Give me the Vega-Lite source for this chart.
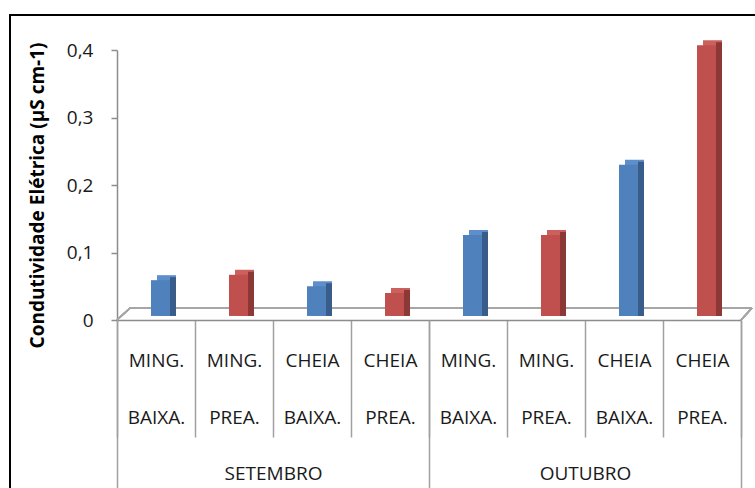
{
  "$schema": "https://vega.github.io/schema/vega-lite/v6.json",
  "autosize": {"type": "none"},
  "padding": {"left": 10, "top": 15, "right": 0, "bottom": 0},
  "width": 745,
  "height": 473,
  "background": "white",
  "view": {"stroke": "black", "strokeWidth": 2, "strokeDash": [745, 1218, 473], "fill": null},
  "config": {"font": "Open Sans"},
  "data": {
    "values": [
      {"id": "SETEMBRO|MING.|BAIXA.", "mes": "SETEMBRO", "lua": "MING.", "mare": "BAIXA.", "valor": 0.059},
      {"id": "SETEMBRO|MING.|PREA.", "mes": "SETEMBRO", "lua": "MING.", "mare": "PREA.", "valor": 0.067},
      {"id": "SETEMBRO|CHEIA|BAIXA.", "mes": "SETEMBRO", "lua": "CHEIA", "mare": "BAIXA.", "valor": 0.050},
      {"id": "SETEMBRO|CHEIA|PREA.", "mes": "SETEMBRO", "lua": "CHEIA", "mare": "PREA.", "valor": 0.040},
      {"id": "OUTUBRO|MING.|BAIXA.", "mes": "OUTUBRO", "lua": "MING.", "mare": "BAIXA.", "valor": 0.126},
      {"id": "OUTUBRO|MING.|PREA.", "mes": "OUTUBRO", "lua": "MING.", "mare": "PREA.", "valor": 0.126},
      {"id": "OUTUBRO|CHEIA|BAIXA.", "mes": "OUTUBRO", "lua": "CHEIA", "mare": "BAIXA.", "valor": 0.230},
      {"id": "OUTUBRO|CHEIA|PREA.", "mes": "OUTUBRO", "lua": "CHEIA", "mare": "PREA.", "valor": 0.407}
    ]
  },
  "resolve": {"scale": {"x": "independent"}, "axis": {"x": "independent"}},
  "layer": [
    {
      "layer": [
        {
          "mark": {"type": "rule", "color": "#a6a6a6", "strokeWidth": 1.5, "yOffset": -12, "y2Offset": -12, "xOffset": -26, "x2Offset": 50},
          "encoding": {
            "x": {"datum": "SETEMBRO|MING.|BAIXA.", "type": "nominal",
              "scale": {"domain": ["SETEMBRO|MING.|BAIXA.", "SETEMBRO|MING.|PREA.", "SETEMBRO|CHEIA|BAIXA.", "SETEMBRO|CHEIA|PREA.", "OUTUBRO|MING.|BAIXA.", "OUTUBRO|MING.|PREA.", "OUTUBRO|CHEIA|BAIXA.", "OUTUBRO|CHEIA|PREA."],
                "range": [107, 731], "paddingInner": 0, "paddingOuter": 0},
              "axis": {
                "orient": "bottom", "offset": -168, "title": null,
                "domain": true, "domainColor": "#8c8c8c", "domainWidth": 1.5,
                "ticks": true, "tickBand": "extent", "tickSize": 117, "tickColor": "#a0a0a0", "tickWidth": 1.5,
                "labelExpr": "slice(split(datum.label, '|'), 1)",
                "labelFont": "Open Sans", "labelFontSize": 19, "labelColor": "#1a1a1a",
                "labelAngle": 0, "labelBaseline": "top", "labelLineHeight": 57, "labelPadding": -86,
                "labelOverlap": false, "labelBound": false, "labelFlush": false
              }},
            "x2": {"datum": "OUTUBRO|CHEIA|PREA."},
            "y": {"datum": 0, "type": "quantitative",
              "scale": {"domain": [0, 0.4], "range": [305, 35], "nice": false, "zero": true},
              "axis": {
                "orient": "left", "offset": -107, "values": [0, 0.1, 0.2, 0.3, 0.4],
                "labelExpr": "replace(format(datum.value, '.1~f'), '.', ',')",
                "domainColor": "#8c8c8c", "domainWidth": 1.5, "tickColor": "#8c8c8c", "tickWidth": 1.5, "tickSize": 6,
                "grid": false, "labelFont": "Open Sans", "labelFontSize": 19, "labelColor": "#1a1a1a", "labelPadding": 18,
                "title": "Condutividade Elétrica (µS cm-1)", "titleFont": "Open Sans", "titleFontSize": 19, "titleFontWeight": "bold",
                "titleColor": "#000000", "titleX": -74, "titleY": 180, "titleBaseline": "alphabetic", "titleAngle": -90
              }},
            "y2": {"datum": 0}
          }
        },
        {
          "mark": {"type": "rule", "color": "#a6a6a6", "strokeWidth": 1.5, "xOffset": -39, "x2Offset": -26, "y2Offset": -12},
          "encoding": {
            "x": {"datum": "SETEMBRO|MING.|BAIXA.", "type": "nominal"},
            "x2": {"datum": "SETEMBRO|MING.|BAIXA."},
            "y": {"datum": 0, "type": "quantitative"},
            "y2": {"datum": 0}
          }
        },
        {
          "mark": {"type": "rule", "color": "#a6a6a6", "strokeWidth": 1.5, "xOffset": 39, "x2Offset": 50, "y2Offset": -12},
          "encoding": {
            "x": {"datum": "OUTUBRO|CHEIA|PREA.", "type": "nominal"},
            "x2": {"datum": "OUTUBRO|CHEIA|PREA."},
            "y": {"datum": 0, "type": "quantitative"},
            "y2": {"datum": 0}
          }
        },
        {
          "mark": {"type": "bar", "size": 19, "xOffset": 10.5, "yOffset": -5},
          "encoding": {
            "x": {"field": "id", "type": "nominal"},
            "y": {"field": "valor", "type": "quantitative"},
            "y2": {"datum": 0.006},
            "color": {"condition": {"test": "datum.mare === 'BAIXA.'", "value": "#5f8fca"}, "value": "#cc605c"}
          }
        },
        {
          "mark": {"type": "bar", "size": 6, "xOffset": 17, "yOffset": -3},
          "encoding": {
            "x": {"field": "id", "type": "nominal"},
            "y": {"field": "valor", "type": "quantitative"},
            "y2": {"datum": 0.006},
            "color": {"condition": {"test": "datum.mare === 'BAIXA.'", "value": "#385d8a"}, "value": "#8c3836"}
          }
        },
        {
          "mark": {"type": "bar", "size": 19, "xOffset": 4.5},
          "encoding": {
            "x": {"field": "id", "type": "nominal"},
            "y": {"field": "valor", "type": "quantitative"},
            "y2": {"datum": 0.006},
            "color": {"condition": {"test": "datum.mare === 'BAIXA.'", "value": "#4f81bd"}, "value": "#c0504d"}
          }
        }
      ]
    },
    {
      "mark": {"type": "rule", "opacity": 0},
      "encoding": {
        "x": {"field": "mes", "type": "nominal",
          "scale": {"domain": ["SETEMBRO", "OUTUBRO"], "range": [107, 731], "paddingInner": 0, "paddingOuter": 0},
          "axis": {
            "orient": "bottom", "offset": -168, "title": null, "domain": false,
            "ticks": true, "tickBand": "extent", "tickSize": 168, "tickColor": "#a0a0a0", "tickWidth": 1.5,
            "labelFont": "Open Sans", "labelFontSize": 19, "labelColor": "#1a1a1a",
            "labelAngle": 0, "labelBaseline": "top", "labelPadding": -24,
            "labelOverlap": false, "labelBound": false, "labelFlush": false
          }}
      }
    }
  ]
}
